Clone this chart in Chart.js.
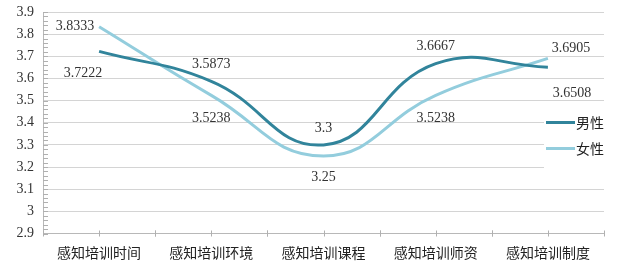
<!DOCTYPE html>
<html>
<head>
<meta charset="utf-8">
<script src="https://cdn.jsdelivr.net/npm/chart.js@4.4.0/dist/chart.umd.min.js"></script>
<style>
    html, body { margin: 0; padding: 0; background: #fff; }
    #wrap { width: 643px; height: 267px; }
</style>
</head>
<body>
<div id="wrap"><canvas id="lineChart"></canvas></div>
<script>
const categories = ['感知培训时间', '感知培训环境', '感知培训课程', '感知培训师资', '感知培训制度'];
const seriesNames = ['男性', '女性'];
const maleValues = [3.7222, 3.5873, 3.3, 3.6667, 3.6508];
const femaleValues = [3.8333, 3.5238, 3.25, 3.5238, 3.6905];
const yMin = 2.9;
const yMax = 3.9;
const yStep = 0.1;

const colors = ['#31849B', '#93CDDD'];
// label offsets from each point (dx, dy)
const labelOffsets = [
    [[-16, 22], [0, -17], [0, -17], [0, -17], [24, 26]],
    [[-24, 0], [0, 23], [0, 21], [0, 23], [23, -10]]
];

const serif = '"Liberation Serif", "Times New Roman", serif';
const cjk = '"Noto Sans CJK SC", sans-serif';

const extrasPlugin = {
    id: 'extras',
    afterDatasetsDraw(chart) {
        const ctx = chart.ctx;
        const area = chart.chartArea;
        const x = chart.scales.x;
        const y = chart.scales.y;
        ctx.save();

        // minor ticks on the y axis
        ctx.strokeStyle = '#b0b0b0';
        ctx.lineWidth = 1;
        for (let v = yMin; v <= yMax + 1e-9; v += 0.02) {
            const py = Math.round(y.getPixelForValue(v)) + 0.5;
            ctx.beginPath();
            ctx.moveTo(area.left, py);
            ctx.lineTo(area.left + 5, py);
            ctx.stroke();
        }
        // x axis ticks at centers and boundaries
        const half = (x.getPixelForValue(1) - x.getPixelForValue(0)) / 2;
        for (let i = 0; i < categories.length; i++) {
            const cx = x.getPixelForValue(i);
            [cx - half, cx, cx + half].forEach(px => {
                ctx.beginPath();
                ctx.moveTo(Math.round(px) + 0.5, area.bottom - 3);
                ctx.lineTo(Math.round(px) + 0.5, area.bottom + 3);
                ctx.stroke();
            });
        }

        // value labels
        ctx.font = '14px ' + serif;
        ctx.fillStyle = '#333';
        ctx.textAlign = 'center';
        ctx.textBaseline = 'middle';
        chart.data.datasets.forEach((ds, di) => {
            const meta = chart.getDatasetMeta(di);
            meta.data.forEach((pt, i) => {
                const off = labelOffsets[di][i];
                ctx.fillText(String(ds.data[i]), pt.x + off[0], pt.y + off[1]);
            });
        });

        // legend inside the plot, on the right
        ctx.fillStyle = '#fff';
        ctx.fillRect(area.right - 60, area.top + 98, 62, 62);
        ctx.font = '14px ' + cjk;
        ctx.textAlign = 'left';
        chart.data.datasets.forEach((ds, di) => {
            const ly = area.top + 110.5 + di * 26;
            ctx.strokeStyle = ds.borderColor;
            ctx.lineWidth = 3;
            ctx.beginPath();
            ctx.moveTo(area.right - 58, ly);
            ctx.lineTo(area.right - 29, ly);
            ctx.stroke();
            ctx.fillStyle = '#222';
            ctx.fillText(ds.label, area.right - 28, ly);
        });
        ctx.restore();
    }
};

const ctx = document.getElementById('lineChart').getContext('2d');
new Chart(ctx, {
    type: 'line',
    data: {
        labels: categories,
        datasets: [
            { label: seriesNames[0], data: maleValues, borderColor: colors[0], backgroundColor: colors[0] },
            { label: seriesNames[1], data: femaleValues, borderColor: colors[1], backgroundColor: colors[1] }
        ]
    },
    options: {
        responsive: true,
        maintainAspectRatio: false,
        animation: false,
        layout: { padding: { top: 12, right: 39, left: 0, bottom: 0 } },
        elements: {
            line: { tension: 0.45, borderWidth: 3, fill: false },
            point: { radius: 0, hoverRadius: 0 }
        },
        plugins: {
            legend: { display: false },
            tooltip: { enabled: false }
        },
        scales: {
            x: {
                offset: true,
                grid: { display: false, drawTicks: false },
                border: { color: '#b8b8b8' },
                ticks: { color: '#222', padding: 11, font: { family: cjk, size: 14 }, maxRotation: 0 },
                afterFit(scale) { scale.height = 33.5; }
            },
            y: {
                min: yMin,
                max: yMax,
                grid: { color: '#d4d4d4', drawTicks: false },
                border: { color: '#b8b8b8' },
                ticks: {
                    stepSize: yStep,
                    padding: 9,
                    color: '#333',
                    font: { family: serif, size: 14 },
                    callback: v => String(Number(v.toFixed(1)))
                },
                afterFit(scale) {
                    scale.width = 43;
                    scale.paddingTop = 0;
                    scale.paddingBottom = 0;
                }
            }
        }
    },
    plugins: [extrasPlugin]
});
</script>
</body>
</html>
